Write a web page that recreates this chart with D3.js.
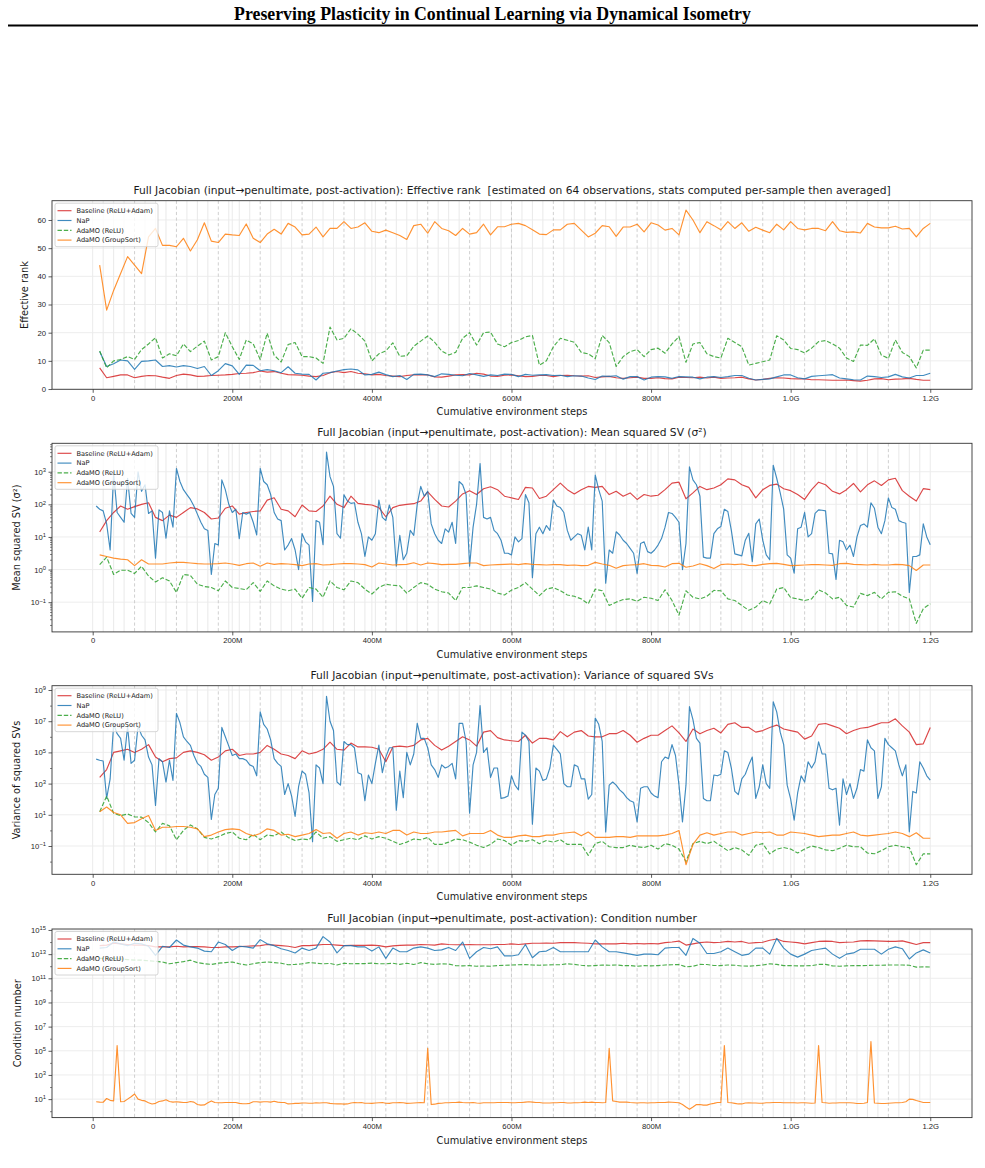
<!DOCTYPE html>
<html>
<head>
<meta charset="utf-8">
<script src="https://cdn.jsdelivr.net/npm/d3@7"></script>
<style>
  body { margin: 0; background: #fff; }
  svg { display: block; font-family: "DejaVu Sans", sans-serif; }
</style>
</head>
<body>
<svg id="fig" width="985" height="1168"></svg>
<script>
// sample positions, millions of environment steps
const steps10 = [10,20,30,40,50,60,70,80,90,100,110,120,130,140,150,160,170,180,190,200,
  210,220,230,240,250,260,270,280,290,300,310,320,330,340,350,360,370,380,390,400,
  410,420,430,440,450,460,470,480,490,500,510,520,530,540,550,560,570,580,590,600,
  610,620,630,640,650,660,670,680,690,700,710,720,730,740,750,760,770,780,790,800,
  810,820,830,840,850,860,870,880,890,900,910,920,930,940,950,960,970,980,990,1000,
  1010,1020,1030,1040,1050,1060,1070,1080,1090,1100,1110,1120,1130,1140,1150,1160,1170,1180,1190,1200];
const steps5 = [5,10,15,20,25,30,35,40,45,50,55,60,65,70,75,80,85,90,95,100,
  105,110,115,120,125,130,135,140,145,150,155,160,165,170,175,180,185,190,195,200,
  205,210,215,220,225,230,235,240,245,250,255,260,265,270,275,280,285,290,295,300,
  305,310,315,320,325,330,335,340,345,350,355,360,365,370,375,380,385,390,395,400,
  405,410,415,420,425,430,435,440,445,450,455,460,465,470,475,480,485,490,495,500,
  505,510,515,520,525,530,535,540,545,550,555,560,565,570,575,580,585,590,595,600,
  605,610,615,620,625,630,635,640,645,650,655,660,665,670,675,680,685,690,695,700,
  705,710,715,720,725,730,735,740,745,750,755,760,765,770,775,780,785,790,795,800,
  805,810,815,820,825,830,835,840,845,850,855,860,865,870,875,880,885,890,895,900,
  905,910,915,920,925,930,935,940,945,950,955,960,965,970,975,980,985,990,995,1000,
  1005,1010,1015,1020,1025,1030,1035,1040,1045,1050,1055,1060,1065,1070,1075,1080,1085,1090,1095,1100,
  1105,1110,1115,1120,1125,1130,1135,1140,1145,1150,1155,1160,1165,1170,1175,1180,1185,1190,1195,1200];

const seriesNames = ["Baseline (ReLU+Adam)", "NaP", "AdaMO (ReLU)", "AdaMO (GroupSort)"];

// panel 1: effective rank
const rankBaseline = [7.5,4,4.5,5,5,4,4.5,4.8,4.7,4.2, 3.8,4.8,5.3,5,4.5,4.6,4.8,4.9,5,5.2,
  5.5,5.6,5.8,6.4,6,6.2,5.6,5.1,5,4.9, 4.6,4.4,4.8,5.8,6.2,5.8,6.2,5.6,5.4,5,
  5.2,4.8,4.6,4.4,4.8,5,5.1,5,4.3,4.2, 4.6,5,5.1,5,5.6,5.3,4.6,4.5,4.9,5,
  4.7,4.4,4.5,4.8,4.8,4.4,4.8,4.9,4.7,4.6, 4.7,4.1,4.3,4.5,4,3.8,4,4.2,3.8,3.8,
  4,3.7,3.6,4.2,4.1,4,4.2,3.9,4.2,3.8, 3.9,4,4.2,3.6,3.2,3.4,3.8,4,3.9,3.7,
  3.6,3.6,3.3,3.3,3.2,3.1,3.1,3.2,3.0,2.8, 3.1,3.6,3.7,3.3,3.5,3.6,3.8,3.4,3.1,3.1];
const rankNaP = [13.3,8,9,10.3,10,7,9.8,10,10.3,8, 8.3,7.8,8.3,8,7.3,8,4.8,6.5,9,8.2,
  5.2,8.5,8.4,6.5,6.9,6.5,5.8,7.9,5.6,5.3, 5.2,3.2,5.6,5.8,6.4,6.9,7.1,6.8,5,5.2,
  6,5.1,4.4,4.8,3.4,5.2,5.3,5,4.4,5.4, 5.2,4.9,4.7,5.5,5,4.5,5,4.8,5.3,5.2,
  4.4,5.2,4.9,5,5.1,4.8,4.9,4.4,4.7,4.6, 3.9,3.4,4.6,4.5,4.7,3.5,4.4,4.4,3.2,4.2,
  4.4,4.3,3.8,4.4,4.3,4.2,3.6,4.2,4.4,4.1, 4.4,4.8,4.8,3.8,3.2,3.4,3.6,4.3,5,5,
  4,3.6,4.5,4.7,4.9,5.1,3.9,3.6,3.3,3.2, 4.6,4.4,4.1,4.3,5.2,4.3,3.9,4.8,4.8,5.6];
const rankReLU = [13.5,7.5,10,10.5,11.5,10.5,14,16,18.2,11, 12.5,11.8,16,13.3,15.2,17,10.3,11.5,20,15,
  10.5,17.4,16,10.5,19.8,12,9.6,15.8,16.5,11.5, 11.5,11,9.1,22,17.4,18,21.4,19.5,17,10,
  12.5,13.5,16.4,11.6,11.8,15.2,17,18.8,16.6,13.5, 12.1,13,18,20,15.6,20,20.2,16,15,16.5,
  17.2,18.5,19,8.5,10,15,18,17.3,16.6,13, 12.5,10.8,19,16.5,8,11.5,13.3,14,11.5,14,
  14.5,12.7,16,18.6,9.5,16,16.5,12.5,11.5,11, 18,16.5,15,8.5,9.1,9.7,10.3,18.9,17.4,14.4,
  14,12.8,14.5,16.8,17.2,16,14.5,11,9.8,15.6, 15.5,17.8,12,10.9,17.4,13,11.5,7.5,13.8,13.8];
const rankGroupSort = [44,28,35,41,47,44,41,54,57,51, 51,50.5,53.5,49,53,59,52.5,52,55,54.7,
  54.5,58.6,53.5,52,55,56.7,55,58.8,57.5,54.7, 55,57.5,54,57,57,59.4,57,57.5,59,56,
  55.5,56.4,55.5,54.5,53.1,58,58.5,55.3,59.4,57, 56.2,54.5,57,55,55.5,58.5,54.7,57.6,57.6,58.5,
  58.8,58,56.5,55,54.8,56.5,56.5,58.5,58.8,56.4, 54,55.3,58,57.6,54.2,57.5,57.5,58.5,55.8,59,
  58.2,56.4,57,54.7,63.5,60,55.5,59.4,58,56.5, 59.4,57,59,56,57.4,56.4,55.5,58.5,56.5,59.4,
  57,56.5,57,57,56.2,59.4,56.2,55.6,55.8,55.4, 58.8,57.5,57.2,57.2,57.8,56.8,57,54,57,58.8];

// panel 2: mean squared SV (log10 of value)
const msBaselineLog = [1.15,1.5,1.75,1.95,1.85,1.93,2.0,2.05,1.6,1.5, 1.67,1.6,1.75,1.9,1.86,1.75,1.55,1.58,1.88,1.95,
  1.7,1.75,1.78,1.8,2.13,2.2,1.85,1.8,1.62,1.98, 1.8,1.78,1.95,2.25,2.0,1.9,2.25,2.03,2.0,1.98,
  1.9,1.62,1.9,1.97,2.0,2.02,2.1,2.38,2.15,1.95, 1.92,2.1,2.32,2.42,2.3,2.48,2.54,2.45,2.25,2.2,
  2.15,2.52,2.5,2.18,2.25,2.45,2.65,2.45,2.32,2.45, 2.55,2.52,2.55,2.3,2.4,2.25,2.35,2.15,2.3,2.25,
  2.28,2.45,2.65,2.68,2.17,2.35,2.55,2.45,2.5,2.6, 2.78,2.75,2.6,2.52,2.2,2.45,2.58,2.62,2.48,2.42,
  2.3,2.15,2.45,2.68,2.6,2.4,2.32,2.45,2.64,2.38, 2.6,2.72,2.58,2.75,2.8,2.42,2.25,2.1,2.48,2.45];
const msNaPLog = [1.95,1.85,1.8,1.4,0.6,2.95,1.75,1.6,1.45,2.8, 1.72,1.6,3.0,2.4,2.6,1.72,1.8,0.35,1.83,1.75,
  0.96,1.8,1.3,3.1,2.7,2.45,2.3,2.15,1.95,1.7, 1.45,1.25,1.2,-0.15,0.8,0.75,2.75,2.45,2.0,1.75,
  1.85,0.95,1.75,1.7,1.75,1.45,1.06,3.1,2.7,2.6, 2.3,1.75,1.55,1.5,0.6,0.75,0.95,0.6,0.0,1.1,
  0.85,0.75,-0.98,1.5,1.45,0.76,3.6,2.85,2.55,1.1, 0.96,2.29,2.1,2.03,2.05,1.45,1.1,0.4,1.0,0.9,
  1.1,2.13,1.6,1.5,1.98,1.6,0.1,1.05,0.3,0.5, 1.2,1.05,2.0,2.55,2.25,2.4,1.4,1.1,0.9,0.8,
  1.25,1.15,1.45,0.8,2.7,2.6,2.3,0.1,1.3,2.0, 3.25,1.6,1.55,1.6,1.2,1.1,0.9,0.5,0.5,0.45,
  1.0,0.85,0.95,2.3,2.05,-0.25,1.1,1.3,1.1,1.35, 1.2,2.13,1.95,1.9,1.75,1.2,0.9,1.0,1.1,1.05,
  0.6,1.3,0.6,2.9,2.45,2.1,-0.42,0.6,0.5,1.16, 1.06,0.9,0.8,0.65,0.5,-0.12,0.8,0.85,0.55,0.5,
  0.6,0.75,0.95,1.3,1.75,1.72,1.6,1.45,0.0,0.8, 3.15,2.75,2.6,2.25,0.38,0.35,0.35,1.1,1.25,1.32,
  1.85,1.78,1.2,0.48,0.45,0.42,0.9,1.11,0.24,1.4, 1.55,0.9,0.45,0.3,3.2,2.8,2.35,1.85,0.45,0.35,
  -0.11,1.25,1.3,1.75,1.0,1.1,1.72,1.83,1.82,1.8, 0.5,0.48,-0.3,0.9,0.85,0.6,0.75,0.4,1.0,1.35,
  1.4,1.3,2.05,1.88,1.3,1.1,1.5,2.2,1.9,1.85, 1.5,1.45,1.42,-0.7,0.4,0.4,0.45,1.4,1.0,0.76];
const msReLULog = [0.15,0.38,-0.15,-0.02,-0.02,-0.12,0.1,-0.2,-0.38,-0.25, -0.35,-0.7,-0.15,-0.18,-0.45,-0.52,-0.55,-0.65,-0.35,-0.55,
  -0.58,-0.62,-0.4,-0.67,-0.35,-0.5,-0.6,-0.65,-0.6,-0.88, -0.55,-0.6,-0.85,-0.35,-0.55,-0.62,-0.35,-0.4,-0.6,-0.75,
  -0.55,-0.45,-0.48,-0.5,-0.72,-0.55,-0.4,-0.45,-0.6,-0.68, -0.72,-0.95,-0.55,-0.55,-0.5,-0.55,-0.6,-0.72,-0.78,-0.63,
  -0.55,-0.4,-0.6,-0.8,-0.6,-0.55,-0.65,-0.78,-0.82,-0.9, -1.05,-0.6,-0.65,-1.1,-1.0,-0.92,-0.9,-0.97,-0.85,-0.88,
  -0.95,-0.62,-0.95,-1.4,-0.65,-0.85,-0.9,-0.82,-0.64,-0.65, -0.9,-0.95,-1.1,-1.25,-1.15,-0.95,-1.05,-0.6,-0.55,-0.86,
  -0.9,-0.95,-0.9,-0.62,-0.72,-0.9,-0.85,-1.1,-1.15,-0.73, -0.8,-0.7,-0.9,-0.7,-0.68,-0.82,-0.9,-1.65,-1.2,-1.05];
const msGroupSortLog = [0.45,0.4,0.35,0.32,0.3,0.12,0.3,0.17,0.17,0.17, 0.2,0.22,0.22,0.2,0.18,0.17,0.17,0.18,0.2,0.17,
  0.13,0.18,0.2,0.1,0.2,0.16,0.18,0.17,0.15,0.12, 0.17,0.18,0.14,0.15,0.17,0.18,0.18,0.17,0.15,0.08,
  0.2,0.17,0.14,0.15,0.16,0.21,0.14,0.2,0.18,0.15, 0.16,0.16,0.18,0.2,0.2,0.12,0.14,0.15,0.16,0.17,
  0.15,0.18,0.16,0.15,0.14,0.15,0.15,0.13,0.14,0.12, 0.13,0.22,0.17,0.13,0.04,0.12,0.14,0.15,0.18,0.13,
  0.12,0.08,0.18,0.19,0.07,0.11,0.18,0.12,0.03,0.15, 0.17,0.15,0.17,0.13,0.12,0.16,0.18,0.19,0.16,0.12,
  0.13,0.14,0.15,0.15,0.14,0.13,0.18,0.19,0.16,0.15, 0.14,0.16,0.14,0.14,0.16,0.15,0.12,-0.03,0.14,0.14];

// panel 3: variance of squared SVs (log10)
const varBaselineLog = [3.4,3.9,5.0,5.1,5.2,5.0,5.2,5.5,4.7,4.4, 4.6,4.65,5.0,5.1,5.0,4.85,4.5,4.7,5.1,5.2,
  4.8,4.9,4.9,5.0,5.45,5.2,4.9,4.8,4.6,5.1, 4.9,5.0,5.2,5.66,5.2,5.15,5.6,5.35,5.35,5.33,
  5.2,4.4,5.35,5.4,5.35,5.45,5.8,5.9,5.45,5.15, 5.4,5.7,6.0,5.8,5.4,6.3,6.4,5.95,5.8,5.75,
  5.7,6.1,5.6,5.9,5.9,5.8,6.33,6.0,6.3,6.4, 6.05,6.0,6.0,6.2,6.2,6.4,6.1,5.65,5.9,6.1,
  6.1,6.4,6.7,6.25,5.7,6.5,6.2,6.4,6.55,6.25, 6.8,6.9,6.6,6.6,6.3,6.4,6.6,6.75,6.5,6.4,
  6.3,5.85,6.05,6.8,6.85,6.7,6.55,6.2,6.4,6.55, 6.6,6.75,6.9,6.9,7.15,6.7,6.3,5.5,5.55,6.6];
const varNaPLog = [4.57,4.5,4.45,2.05,3.3,6.8,6.2,5.9,4.5,6.65, 4.3,4.5,6.7,6.1,5.8,4.7,4.2,1.6,4.6,4.4,
  3.1,4.5,3.2,7.5,6.9,6.0,5.7,5.45,4.8,4.3, 4.1,3.6,3.4,0.7,2.3,2.7,6.6,6.0,5.4,4.8,
  4.9,4.6,4.6,4.5,4.2,4.1,3.5,7.6,6.8,6.5, 5.8,4.6,4.3,4.1,2.3,3.0,2.2,0.9,2.8,3.8,
  3.6,2.4,-0.73,4.2,4.0,3.0,8.6,7.0,6.4,3.1, 2.9,5.7,5.5,5.5,5.3,3.7,3.6,1.9,3.55,3.0,
  4.3,5.47,3.7,4.7,5.3,5.3,1.3,3.8,2.1,5.0, 4.2,4.9,6.86,5.9,5.9,5.3,4.2,3.9,3.4,4.2,
  4.0,4.1,4.3,3.3,6.86,6.86,5.7,1.1,4.2,5.0, 8.0,5.0,5.3,3.4,4.0,4.0,2.05,2.1,2.2,3.5,
  2.9,2.6,6.3,6.1,5.7,0.4,4.0,3.8,3.2,3.3, 4.0,5.47,5.2,4.9,3.0,2.8,2.8,4.2,4.1,3.3,
  3.3,2.0,2.3,7.2,6.8,5.7,-0.1,2.9,3.1,2.9, 2.6,2.4,2.1,1.9,1.8,0.55,2.7,2.8,2.8,2.4,
  2.2,2.1,4.4,4.7,4.6,5.5,4.8,2.9,0.55,2.9, 7.93,7.1,5.9,5.6,2.05,1.9,1.9,3.55,3.5,3.6,
  5.1,5.0,4.0,2.5,2.3,3.3,3.6,4.2,4.7,2.05, 2.8,4.2,3.0,2.7,8.25,7.6,6.3,5.5,2.9,2.0,
  0.66,2.4,3.5,3.1,4.4,4.0,4.4,5.68,4.9,4.9, 2.7,2.6,2.7,0.34,3.3,2.3,3.0,2.05,2.7,3.9,
  3.8,5.8,5.3,5.1,2.05,2.8,5.9,5.5,5.3,5.1, 4.2,3.5,4.2,-0.09,2.5,2.4,4.4,4.0,3.5,3.22];
const varReLULog = [1.2,2.2,1.1,0.95,1.05,0.87,0.85,0.5,-0.1,0.45, 0.3,-0.6,0.0,0.35,0.1,-0.45,-0.55,-0.4,-0.2,-0.1,
  -0.5,-0.6,-0.25,-0.6,-0.3,-0.35,-0.1,-0.45,-0.65,-0.55, -0.6,-0.1,-0.5,-0.4,-0.7,-0.6,-0.5,-0.6,-0.35,-0.55,
  -0.4,-0.5,-0.7,-0.9,-0.75,-0.55,-0.6,-0.45,-0.9,-0.9, -0.75,-0.55,-0.6,-0.75,-0.95,-1.1,-0.9,-0.55,-0.65,-0.95,
  -0.65,-0.7,-0.6,-0.85,-0.65,-0.75,-0.6,-0.9,-0.9,-0.9, -1.6,-0.85,-0.7,-1.05,-1.1,-1.1,-0.95,-1.05,-1.1,-0.95,
  -1.2,-0.85,-0.95,-1.2,-2.0,-0.85,-0.7,-0.85,-0.7,-1.0, -1.3,-1.1,-1.25,-1.6,-0.95,-0.85,-1.5,-1.2,-1.1,-1.2,
  -1.45,-1.2,-1.0,-1.1,-1.25,-1.3,-1.15,-0.95,-1.05,-1.05, -1.45,-1.5,-1.3,-1.05,-0.95,-1.05,-1.1,-2.2,-1.5,-1.5];
const varGroupSortLog = [1.2,1.5,1.15,1.0,0.45,0.5,0.75,0.95,0.0,0.2, 0.2,0.25,0.25,0.2,0.1,-0.4,-0.3,-0.1,0.05,0.1,
  0.05,-0.2,-0.35,-0.2,0.1,0.0,-0.3,-0.25,-0.4,-0.3, -0.2,0.05,-0.2,-0.15,-0.5,-0.2,-0.1,-0.3,-0.15,-0.2,
  -0.1,-0.2,0.0,0.0,-0.3,-0.1,-0.2,-0.2,-0.1,-0.1, -0.05,0.0,-0.35,-0.2,-0.2,-0.2,0.0,-0.3,-0.45,-0.45,
  -0.35,-0.3,-0.4,-0.4,-0.3,-0.3,-0.2,-0.15,-0.1,-0.35, -0.1,-0.45,-0.45,-0.45,-0.4,-0.4,-0.45,-0.35,-0.35,-0.35,
  -0.35,-0.3,-0.2,0.0,-2.2,-0.9,-0.3,-0.15,-0.3,-0.2, -0.1,-0.1,-0.3,-0.2,-0.1,-0.15,-0.1,-0.3,-0.3,-0.1,
  -0.15,-0.2,-0.3,-0.4,-0.35,-0.3,-0.3,-0.2,-0.1,-0.3, -0.35,-0.3,-0.25,-0.2,-0.1,-0.2,-0.4,-0.15,-0.5,-0.5];

// panel 4: condition number (log10)
const condBaselineLog = [13.7,13.75,13.9,13.85,13.8,13.75,13.75,13.7,13.6,13.6, 13.6,13.65,13.6,13.62,13.62,13.6,13.55,13.55,13.6,13.6,
  13.62,13.65,13.68,13.7,13.8,13.75,13.7,13.65,13.55,13.7, 13.7,13.75,13.8,13.8,13.75,13.7,13.72,13.72,13.72,13.75,
  13.7,13.6,13.68,13.72,13.75,13.75,13.8,13.78,13.75,13.85, 13.8,13.78,13.78,13.8,13.78,13.78,13.78,13.8,13.8,13.85,
  13.8,13.85,13.9,13.9,13.92,13.9,13.95,13.95,13.95,13.92, 13.9,13.85,13.85,13.85,13.85,13.9,13.85,13.88,13.85,13.88,
  13.85,13.95,14.0,14.08,13.75,13.85,13.95,14.0,13.95,13.98, 14.05,14.0,14.05,13.9,13.95,13.98,14.15,14.25,14.05,14.0,
  13.95,13.85,13.95,14.05,14.08,14.05,13.95,13.98,14.0,14.1, 14.12,14.1,14.08,14.05,14.05,14.1,13.95,13.8,13.95,13.95];
const condNaPLog = [13.5,13.55,14.0,13.85,13.7,13.9,13.85,13.65,12.9,13.65, 13.55,14.17,13.75,13.6,13.5,13.25,13.2,14.0,13.8,13.3,
  13.65,13.6,13.5,14.2,13.85,13.7,13.45,13.3,13.1,13.5, 13.3,13.5,14.45,14.0,13.1,13.7,13.7,13.6,13.6,13.25,
  13.6,12.65,13.5,13.2,13.2,13.5,13.6,13.5,13.3,13.35, 13.55,13.3,14.0,12.65,13.2,13.55,13.45,13.6,12.85,12.85,
  12.95,13.8,12.7,13.2,13.25,13.55,13.2,13.2,13.2,13.2, 13.2,14.17,13.6,13.2,13.2,13.1,13.0,12.9,13.0,13.0,
  12.95,13.5,13.55,13.55,12.9,14.3,13.9,13.05,13.05,13.2, 13.5,13.2,12.9,13.0,13.5,13.5,13.0,14.3,13.5,13.0,
  12.75,13.0,13.3,13.4,13.5,13.0,12.65,13.0,13.1,13.4, 13.4,13.4,13.0,13.4,13.6,13.45,12.6,13.1,13.35,13.1];
const condReLULog = [12.65,12.65,12.65,12.6,12.55,12.5,12.5,12.45,12.4,12.35, 12.2,12.3,12.38,12.5,12.3,12.2,12.15,12.25,12.3,12.35,
  12.2,12.1,12.2,12.3,12.35,12.3,12.25,12.12,12.15,12.2, 12.3,12.25,12.2,12.23,12.1,12.25,12.2,12.22,12.22,12.25,
  12.2,12.2,12.25,12.15,12.25,12.14,12.3,12.2,12.15,12.2, 12.18,12.05,12.03,12.05,12.0,12.02,12.0,12.05,12.08,12.1,
  12.12,12.14,12.1,12.08,12.1,12.12,12.12,12.2,12.15,12.08, 12.03,12.05,12.1,12.08,12.1,12.05,12.05,12.0,12.05,12.03,
  12.05,12.1,12.12,12.14,11.95,12.0,12.15,12.14,12.06,12.05, 12.1,12.08,12.02,12.0,12.05,12.1,12.2,12.15,12.05,12.05,
  12.03,12.03,12.05,12.15,12.15,12.03,12.0,12.03,12.05,12.05, 12.06,12.08,12.08,12.1,12.1,12.1,12.08,11.92,11.95,11.93];
const condGroupSortLog = [0.78,0.75,0.74,1.05,0.9,0.85,5.43,0.78,0.8,1.0, 1.2,1.42,1.0,0.9,0.85,0.7,0.6,0.65,0.8,0.85,
  0.95,0.8,0.75,0.78,0.75,0.72,0.72,0.8,0.75,0.55, 0.5,0.52,0.7,0.85,0.72,0.7,0.7,0.72,0.72,0.72,
  0.72,0.65,0.62,0.62,0.65,0.78,0.78,0.75,0.78,0.78, 0.75,0.82,0.75,0.72,0.72,0.6,0.62,0.65,0.65,0.68,
  0.68,0.66,0.66,0.7,0.68,0.7,0.7,0.65,0.62,0.6, 0.62,0.58,0.6,0.68,0.72,0.7,0.72,0.66,0.66,0.65,
  0.68,0.7,0.72,0.66,0.65,0.7,0.7,0.72,0.7,0.65, 0.66,0.68,0.7,0.72,0.7,5.2,0.55,0.58,0.65,0.66,
  0.7,0.7,0.72,0.72,0.75,0.72,0.7,0.7,0.72,0.68, 0.66,0.7,0.7,0.7,0.7,0.72,0.72,0.72,0.72,0.7,
  0.7,0.72,0.72,0.75,0.78,0.75,0.72,0.72,0.68,0.68, 0.68,0.7,0.7,0.72,0.72,0.68,0.68,0.7,0.7,0.72,
  0.75,0.72,0.75,0.72,0.72,0.7,0.72,5.2,0.85,0.8, 0.75,0.75,0.75,0.72,0.7,0.68,0.7,0.7,0.68,0.7,
  0.7,0.72,0.72,0.72,0.75,0.74,0.72,0.7,0.55,0.35, 0.17,0.35,0.55,0.55,0.5,0.5,0.6,0.65,0.72,0.72,
  5.43,0.72,0.7,0.65,0.6,0.6,0.68,0.7,0.68,0.68, 0.66,0.66,0.7,0.7,0.72,0.72,0.72,0.7,0.7,0.7,
  0.7,0.68,0.7,0.7,0.68,0.66,0.68,5.43,0.72,0.7, 0.66,0.68,0.68,0.7,0.7,0.7,0.7,0.68,0.64,0.64,
  0.66,0.72,5.77,0.68,0.66,0.64,0.64,0.66,0.68,0.7, 0.7,0.72,0.78,1.0,0.98,0.88,0.8,0.72,0.72,0.72];

const xTicks = [0, 200, 400, 600, 800, 1000, 1200];
const xTickLabels = ["0", "200M", "400M", "600M", "800M", "1.0G", "1.2G"];
const taskLen = 15;      // faint line per task switch
const cycleLen = 60;     // dashed line per environment cycle

const colors = ["#d62728", "#1f77b4", "#2ca02c", "#ff7f0e"];
const dashes = [null, null, "4.4,1.9", null];

const prefix = "Full Jacobian (input\u2192penultimate, post-activation): ";
const panels = [
  { title: prefix + "Effective rank  [estimated on 64 observations, stats computed per-sample then averaged]",
    ylabel: "Effective rank", top: 200.7, log: false, domain: [-0.1, 66.85],
    major: [0, 10, 20, 30, 40, 50, 60], minor: [], labelX: 25,
    series: [[steps10, rankBaseline], [steps10, rankNaP], [steps10, rankReLU], [steps10, rankGroupSort]] },
  { title: prefix + "Mean squared SV (\u03c3\u00b2)",
    ylabel: "Mean squared SV (\u03c3\u00b2)", top: 443.3, log: true, domain: [-1.912, 3.872],
    majorExp: [-1, 0, 1, 2, 3], minorEvery: true, labelX: 17,
    series: [[steps10, msBaselineLog], [steps5, msNaPLog], [steps10, msReLULog], [steps10, msGroupSortLog]] },
  { title: prefix + "Variance of squared SVs",
    ylabel: "Variance of squared SVs", top: 685.7, log: true, domain: [-2.814, 9.276],
    majorExp: [-1, 1, 3, 5, 7, 9], minorExp: [-2, 0, 2, 4, 6, 8], labelX: 17,
    series: [[steps10, varBaselineLog], [steps5, varNaPLog], [steps10, varReLULog], [steps10, varGroupSortLog]] },
  { title: prefix + "Condition number",
    ylabel: "Condition number", top: 929, log: true, domain: [-0.53, 15.08],
    majorExp: [1, 3, 5, 7, 9, 11, 13, 15], minorExp: [0, 2, 4, 6, 8, 10, 12, 14], labelX: 18,
    series: [[steps10, condBaselineLog], [steps10, condNaPLog], [steps10, condReLULog], [steps5, condGroupSortLog]] }
];

const left = 52, right = 972, ph = 188.6;
const svg = d3.select("#fig");

// page header
svg.append("text")
  .attr("x", 492.5).attr("y", 20)
  .attr("text-anchor", "middle")
  .style("font-family", "'Liberation Serif', 'DejaVu Serif', serif")
  .style("font-weight", "bold")
  .style("font-size", "17.8px")
  .text("Preserving Plasticity in Continual Learning via Dynamical Isometry");
svg.append("line")
  .attr("x1", 8).attr("x2", 978).attr("y1", 25.5).attr("y2", 25.5)
  .attr("stroke", "#000").attr("stroke-width", 2);

const x = d3.scaleLinear().domain([-58.3, 1259.8]).range([left, right]);
const taskLines = d3.range(taskLen, 1200, taskLen).filter((d) => d % cycleLen !== 0);
const cycleLines = d3.range(cycleLen, 1200, cycleLen);

panels.forEach((p, pi) => {
  const top = p.top, bottom = p.top + ph;
  const g = svg.append("g");
  let y;
  if (p.log) {
    y = d3.scaleLog().domain(p.domain.map((e) => Math.pow(10, e))).range([bottom, top]);
  } else {
    y = d3.scaleLinear().domain(p.domain).range([bottom, top]);
  }

  const clipId = "clip" + pi;
  svg.append("clipPath").attr("id", clipId)
    .append("rect").attr("x", left).attr("y", top).attr("width", right - left).attr("height", ph);

  const grid = g.append("g").attr("clip-path", `url(#${clipId})`);
  // task boundaries
  grid.selectAll(".task").data(taskLines).join("line")
    .attr("x1", (d) => x(d)).attr("x2", (d) => x(d))
    .attr("y1", top).attr("y2", bottom)
    .attr("stroke", "#e6e6e6").attr("stroke-width", 0.9);
  // x grid
  grid.selectAll(".xg").data(xTicks).join("line")
    .attr("x1", (d) => x(d)).attr("x2", (d) => x(d))
    .attr("y1", top).attr("y2", bottom)
    .attr("stroke", "#e9e9e9").attr("stroke-width", 0.9);
  // y grid
  const majors = p.log ? p.majorExp.map((e) => Math.pow(10, e)) : p.major;
  grid.selectAll(".yg").data(majors).join("line")
    .attr("x1", left).attr("x2", right)
    .attr("y1", (d) => y(d)).attr("y2", (d) => y(d))
    .attr("stroke", "#ebebeb").attr("stroke-width", 0.9);
  // environment cycle boundaries
  grid.selectAll(".cyc").data(cycleLines).join("line")
    .attr("x1", (d) => x(d)).attr("x2", (d) => x(d))
    .attr("y1", top).attr("y2", bottom)
    .attr("stroke", "#c4c4c4").attr("stroke-width", 0.8)
    .attr("stroke-dasharray", "3.2,2.4");

  // series
  const line = d3.line().x((d) => x(d.x)).y((d) => y(d.y));
  const lines = g.append("g").attr("clip-path", `url(#${clipId})`);
  p.series.forEach(([st, vals], si) => {
    const data = vals.map((v, i) => ({ x: st[i], y: p.log ? Math.pow(10, v) : v }));
    lines.append("path")
      .attr("d", line(data))
      .attr("fill", "none")
      .attr("stroke", colors[si])
      .attr("stroke-opacity", 0.85)
      .attr("stroke-width", 1.15)
      .attr("stroke-linejoin", "round")
      .attr("stroke-dasharray", dashes[si]);
  });

  // x axis
  const xa = g.append("g").attr("transform", `translate(0,${bottom})`)
    .call(d3.axisBottom(x).tickValues(xTicks).tickSize(3.5).tickPadding(2.5)
      .tickFormat((d, i) => xTickLabels[i]));
  xa.select(".domain").remove();
  xa.selectAll("text").style("font-size", "7.7px").attr("fill", "#262626");
  xa.selectAll("line").attr("stroke", "#333").attr("stroke-width", 0.8);

  // y axis
  const ya = g.append("g").attr("transform", `translate(${left},0)`)
    .call(d3.axisLeft(y).tickValues(majors).tickSize(3.5).tickPadding(2.5)
      .tickFormat((d) => (p.log ? "" : d)));
  ya.select(".domain").remove();
  ya.selectAll("text").style("font-size", "7.7px").attr("fill", "#262626");
  ya.selectAll("line").attr("stroke", "#333").attr("stroke-width", 0.8);
  if (p.log) {
    ya.selectAll(".tick text").each(function (d) {
      const e = Math.round(Math.log10(d));
      const t = d3.select(this);
      t.append("tspan").text("10");
      t.append("tspan").attr("dy", "-0.45em").style("font-size", "5.8px")
        .text(e < 0 ? "\u2212" + (-e) : String(e));
    });
    let minors;
    if (p.minorEvery) {
      minors = [];
      for (let e = -2; e <= 3; e++) for (let k = 2; k <= 9; k++) minors.push(k * Math.pow(10, e));
    } else {
      minors = p.minorExp.map((e) => Math.pow(10, e));
    }
    const lo = y.domain()[0], hi = y.domain()[1];
    minors = minors.filter((v) => v >= lo && v <= hi);
    const ym = g.append("g").attr("transform", `translate(${left},0)`)
      .call(d3.axisLeft(y).tickValues(minors).tickSize(2).tickFormat(""));
    ym.select(".domain").remove();
    ym.selectAll("line").attr("stroke", "#333").attr("stroke-width", 0.6);
  }

  // frame
  g.append("rect").attr("x", left).attr("y", top).attr("width", right - left).attr("height", ph)
    .attr("fill", "none").attr("stroke", "#333").attr("stroke-width", 0.9);

  // labels
  g.append("text").attr("x", (left + right) / 2).attr("y", top - 7)
    .attr("text-anchor", "middle").style("font-size", "10.7px").attr("fill", "#1a1a1a")
    .style("white-space", "pre").text(p.title);
  g.append("text").attr("x", (left + right) / 2).attr("y", bottom + 26)
    .attr("text-anchor", "middle").style("font-size", "9.8px").attr("fill", "#1a1a1a")
    .text("Cumulative environment steps");
  g.append("text")
    .attr("transform", `translate(${p.labelX},${(top + bottom) / 2}) rotate(-90)`)
    .attr("text-anchor", "middle").attr("dy", "0.35em")
    .style("font-size", "9.8px").attr("fill", "#1a1a1a").text(p.ylabel);

  // legend
  const lg = g.append("g").attr("transform", `translate(${left + 3},${top + 2.5})`);
  lg.append("rect").attr("width", 103).attr("height", 43.5).attr("rx", 2)
    .attr("fill", "#fff").attr("fill-opacity", 0.8)
    .attr("stroke", "#cccccc").attr("stroke-width", 0.8);
  seriesNames.forEach((name, i) => {
    const ly = 7.5 + i * 9.8;
    lg.append("line").attr("x1", 2.5).attr("x2", 16.5).attr("y1", ly).attr("y2", ly)
      .attr("stroke", colors[i]).attr("stroke-opacity", 0.85).attr("stroke-width", 1.15)
      .attr("stroke-dasharray", dashes[i]);
    lg.append("text").attr("x", 21.5).attr("y", ly).attr("dy", "0.35em")
      .style("font-size", "6.6px").attr("fill", "#1a1a1a").text(name);
  });
});
</script>
</body>
</html>
